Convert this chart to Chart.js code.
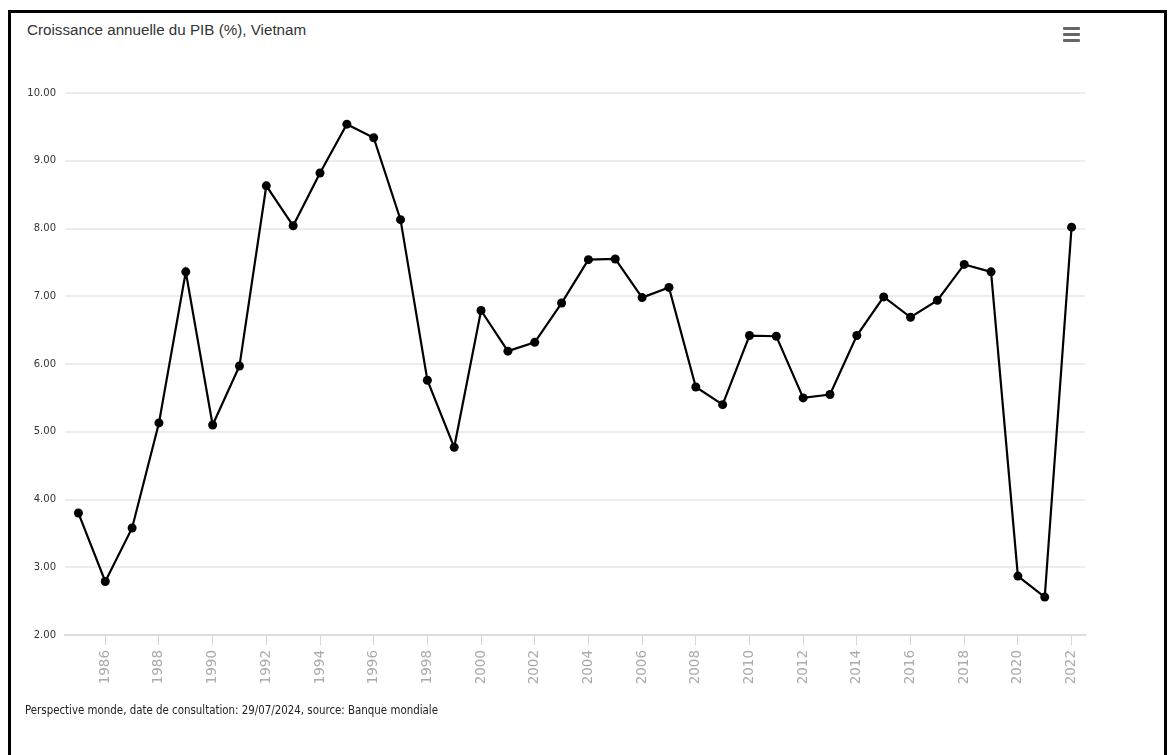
<html>
    <head>
        <meta charset="utf-8">
        <title>Croissance annuelle du PIB (%), Vietnam</title>
        <script src="https://cdn.jsdelivr.net/npm/chart.js"></script>
        <style>
            body { margin: 0; background: #fff; width: 1170px; height: 755px; overflow: hidden; position: relative; }
            #frame { position: absolute; left: 8px; top: 10px; width: 1153px; height: 800px; border: 3px solid #000; }
            #title { position: absolute; left: 27px; top: 21px; font: 15.2px "Liberation Sans", Arial, sans-serif; color: #333; }
            #menu { position: absolute; left: 1063px; top: 27px; width: 17px; }
            #menu div { height: 3px; background: #666; margin-bottom: 3px; border-radius: 1px; }
            #source { position: absolute; left: 25px; top: 703px; font: 11.4px "DejaVu Sans Condensed", "DejaVu Sans", sans-serif; font-stretch: condensed; color: #222; }
            #graph { position: absolute; left: 0; top: 0; }
        </style>
    </head>
    <body>
        <div id="frame"></div>
        <div id="title">Croissance annuelle du PIB (%), Vietnam</div>
        <div id="menu"><div></div><div></div><div></div></div>
        <canvas id="graph" width="1170" height="755"></canvas>
        <div id="source">Perspective monde, date de consultation: 29/07/2024, source: Banque mondiale</div>

        <script>
            // years 1985 - 2022
            const years = [1985, 1986, 1987, 1988, 1989, 1990, 1991, 1992, 1993, 1994,
                1995, 1996, 1997, 1998, 1999, 2000, 2001, 2002, 2003, 2004,
                2005, 2006, 2007, 2008, 2009, 2010, 2011, 2012, 2013, 2014,
                2015, 2016, 2017, 2018, 2019, 2020, 2021, 2022]
            // GDP growth (%)
            const growth = [3.80, 2.79, 3.58, 5.13, 7.36, 5.10, 5.97, 8.63, 8.04, 8.82,
                9.54, 9.34, 8.13, 5.76, 4.77, 6.79, 6.19, 6.32, 6.90, 7.54,
                7.55, 6.98, 7.13, 5.66, 5.40, 6.42, 6.41, 5.50, 5.55, 6.42,
                6.99, 6.69, 6.94, 7.47, 7.36, 2.87, 2.56, 8.02]
            const yearTicks = [1986, 1988, 1990, 1992, 1994, 1996, 1998, 2000, 2002, 2004,
                2006, 2008, 2010, 2012, 2014, 2016, 2018, 2020, 2022]
            const yMin = 2
            const yMax = 10

            const graphConfig = {
                type: 'line',
                data: {
                    labels: years.map(String),
                    datasets: [{
                        label: 'Croissance annuelle du PIB (%)',
                        data: growth,
                        borderColor: '#000',
                        borderWidth: 2.2,
                        pointRadius: 4.5,
                        pointBackgroundColor: '#000',
                        pointBorderColor: '#000',
                        pointBorderWidth: 0,
                        tension: 0
                    }]
                },
                options: {
                    responsive: false,
                    animation: false,
                    layout: { padding: { left: 20, right: 85, top: 93, bottom: 50 } },
                    plugins: {
                        legend: { display: false },
                        title: { display: false },
                        tooltip: { enabled: false }
                    },
                    scales: {
                        x: {
                            type: 'category',
                            offset: true,
                            afterFit: (scale) => { scale.height = 70 },
                            grid: {
                                drawOnChartArea: false,
                                drawTicks: true,
                                tickLength: 10,
                                color: (ctx) => yearTicks.includes(years[ctx.index]) ? '#d6d6d6' : 'rgba(0,0,0,0)'
                            },
                            border: { display: true, color: '#dcdcdc', width: 2 },
                            ticks: {
                                autoSkip: false,
                                minRotation: 90,
                                maxRotation: 90,
                                padding: 5,
                                color: '#ababab',
                                font: { family: 'DejaVu Sans', size: 13.5 },
                                callback: (v, i) => yearTicks.includes(years[i]) ? String(years[i]) : ''
                            }
                        },
                        y: {
                            min: yMin,
                            max: yMax,
                            afterFit: (scale) => { scale.width = 45 },
                            grid: { color: '#ececec', lineWidth: 2, drawTicks: false },
                            border: { display: false },
                            ticks: {
                                stepSize: 1,
                                padding: 9,
                                color: '#333',
                                font: { family: 'DejaVu Sans', size: 10 },
                                callback: (v) => Number(v).toFixed(2)
                            }
                        }
                    }
                }
            }

            new Chart(document.getElementById("graph"), graphConfig)
        </script>
    </body>
</html>
